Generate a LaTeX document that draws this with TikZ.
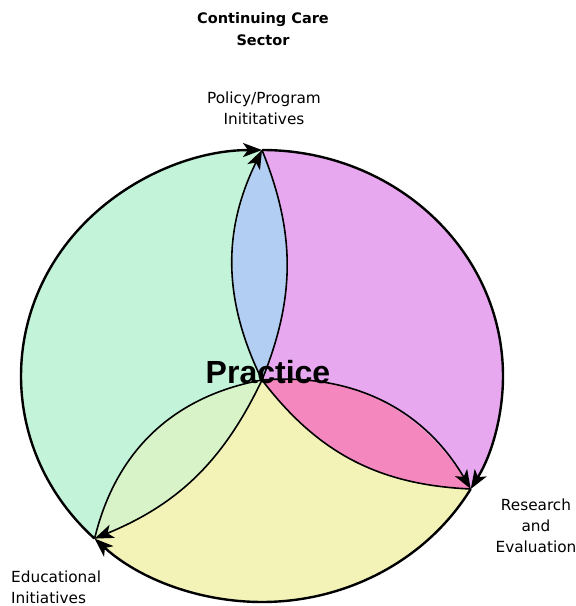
\documentclass[tikz,border=0pt]{standalone}
\usepackage{fontspec}
\setmainfont{DejaVu Sans}
\newfontfamily\practicefont{Liberation Sans}
\usetikzlibrary{arrows.meta}
\definecolor{cgreen}{RGB}{195,243,216}
\definecolor{cpurple}{RGB}{231,168,240}
\definecolor{cblue}{RGB}{178,206,242}
\definecolor{cyellow}{RGB}{243,243,184}
\definecolor{cpink}{RGB}{244,136,190}
\definecolor{cyg}{RGB}{216,243,200}
\begin{document}
\begin{tikzpicture}[x=1pt,y=1pt,
  outerline/.style={line width=2.4pt},
  innerline/.style={line width=1.6pt},
  arr/.style={-{Stealth[length=19pt,width=14pt,inset=5pt]}},
  ell/.style={x radius=241,y radius=226},
  lbl/.style={font=\fontsize{15.3}{21}\selectfont,align=center,inner sep=0pt},
  ttl/.style={font=\bfseries\fontsize{14.5}{22}\selectfont,align=center,inner sep=0pt}]
\useasboundingbox (0,0) rectangle (576,606);
\coordinate (T) at (262,456);
\coordinate (C) at (262,226);
\coordinate (R) at (470.7,117);
\coordinate (E) at (94.6,67.4);
% fills
\fill[cgreen] (E) arc[start angle=226,end angle=90,ell] to[bend right=26] (C) to[bend right=33] (E) -- cycle;
\fill[cblue] (T) to[bend right=26] (C) to[bend right=22] (T) -- cycle;
\fill[cpurple] (T) arc[start angle=90,end angle=-30,ell] to[bend right=32] (C) to[bend right=22] (T) -- cycle;
\fill[cpink] (C) to[bend left=32] (R) to[bend left=25] (C) -- cycle;
\fill[cyellow] (R) arc[start angle=-30,end angle=-134,ell] to[bend right=21] (C) to[bend right=25] (R) -- cycle;
\fill[cyg] (C) to[bend right=33] (E) to[bend right=21] (C) -- cycle;
% texts
\node[ttl] (title) at (263,577) {Continuing Care\\Sector};
\node[lbl] (policy) at (264,498) {Policy/Program\\Inititatives};
\node[lbl] (research) at (536,80) {Research\\and\\Evaluation};
\node[lbl,align=left,anchor=north west] (edu) at (11,35) {Educational\\Initiatives};
\node[font=\practicefont\bfseries\fontsize{32}{32}\selectfont,inner sep=0pt,anchor=base] (practice) at (268,222) {Practice};
% green shape
\draw[outerline,arr] (E) arc[start angle=226,end angle=90,ell];
\draw[innerline] (T) to[bend left=22] (C);
\draw[innerline,arr] (C) to[bend left=21] (E);
% purple shape
\draw[outerline,arr] (T) arc[start angle=90,end angle=-30,ell];
\draw[innerline] (R) to[bend left=25] (C);
\draw[innerline,arr] (C) to[bend left=26] (T);
% yellow shape
\draw[outerline,arr] (R) arc[start angle=-30,end angle=-134,ell];
\draw[innerline] (E) to[bend left=33] (C);
\draw[innerline,arr] (C) to[bend left=32] (R);
\end{tikzpicture}
\end{document}
